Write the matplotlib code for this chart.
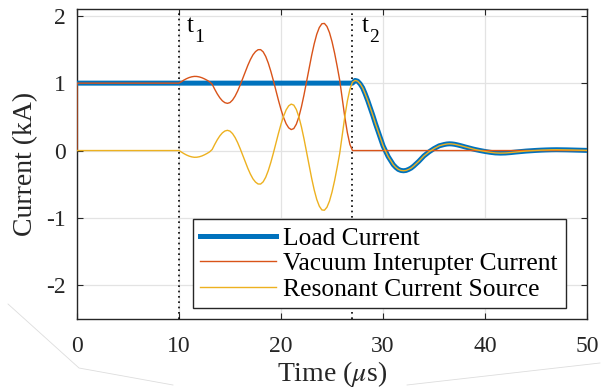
import numpy as np
import matplotlib
matplotlib.use("Agg")
import matplotlib.pyplot as plt
from matplotlib.lines import Line2D

plt.rcParams['font.family'] = ['Liberation Serif', 'DejaVu Serif']
plt.rcParams['mathtext.fontset'] = 'stix'
plt.rcParams['axes.unicode_minus'] = False

# ---- data ----
t_osc = np.arange(10, 27.001, 0.25)      # sample times between t1 and t2 (us)
yellow_osc = [0.000, -0.024, -0.047, -0.067, -0.083, -0.094, -0.100, -0.099, -0.092, -0.080,
              -0.063, -0.043, -0.020, 0.015, 0.090, 0.159, 0.217, 0.262, 0.290, 0.300,
              0.288, 0.251, 0.193, 0.117, 0.027, -0.070, -0.169, -0.265, -0.350, -0.420,
              -0.468, -0.496, -0.497, -0.464, -0.396, -0.298, -0.176, -0.038, 0.110, 0.256,
              0.393, 0.510, 0.603, 0.663, 0.689, 0.674, 0.609, 0.500, 0.351, 0.175,
              -0.020, -0.220, -0.411, -0.583, -0.725, -0.825, -0.881, -0.886, -0.841, -0.749,
              -0.614, -0.445, -0.251, -0.043, 0.231, 0.503, 0.735, 0.910, 1.014]
red_osc = [1.000, 1.024, 1.047, 1.067, 1.083, 1.094, 1.100, 1.099, 1.092, 1.080,
           1.063, 1.043, 1.020, 0.985, 0.910, 0.841, 0.783, 0.738, 0.710, 0.700,
           0.712, 0.749, 0.807, 0.883, 0.973, 1.070, 1.169, 1.265, 1.350, 1.420,
           1.468, 1.496, 1.497, 1.464, 1.396, 1.298, 1.176, 1.038, 0.890, 0.744,
           0.607, 0.490, 0.397, 0.337, 0.311, 0.326, 0.391, 0.500, 0.649, 0.825,
           1.020, 1.220, 1.411, 1.583, 1.725, 1.825, 1.881, 1.886, 1.841, 1.749,
           1.614, 1.445, 1.251, 1.043, 0.769, 0.497, 0.265, 0.090, 0.000]

t_tail = np.concatenate([np.arange(27, 40.001, 0.25), np.arange(40.5, 50.001, 0.5)])
tail = [1.014, 1.040, 1.030, 0.990, 0.930, 0.840, 0.740, 0.630, 0.520, 0.400,
        0.290, 0.180, 0.070, -0.010, -0.090, -0.150, -0.210, -0.250, -0.280, -0.295,
        -0.300, -0.295, -0.280, -0.260, -0.230, -0.195, -0.160, -0.120, -0.080, -0.050,
        -0.020, 0.005, 0.030, 0.050, 0.070, 0.080, 0.090, 0.097, 0.100, 0.098,
        0.093, 0.085, 0.076, 0.066, 0.055, 0.045, 0.035, 0.025, 0.016, 0.008,
        0.000, -0.007, -0.014,
        -0.026, -0.035, -0.038, -0.036, -0.030, -0.022, -0.015, -0.008, -0.003, 0.002,
        0.006, 0.009, 0.011, 0.012, 0.011, 0.010, 0.008, 0.006, 0.004, 0.002]

load_t = np.concatenate([[0, 27], t_tail[1:]])
load_v = np.concatenate([[1.0, 1.0], tail[1:]])
red_t = np.concatenate([[0, 0], t_osc, t_tail[1:]])
red_v = np.concatenate([[0, 1.0], red_osc, np.zeros(len(t_tail) - 1)])
yel_t = np.concatenate([[0], t_osc, t_tail[1:]])
yel_v = np.concatenate([[0.0], yellow_osc, tail[1:]])

t_marks = [10, 27]
t_subs = ['1', '2']
t_label_x = [10.75, 27.95]
xticks = [0, 10, 20, 30, 40, 50]
yticks = [-2, -1, 0, 1, 2]

# ---- figure ----
fig = plt.figure(figsize=(6.01, 3.91), dpi=100)
ax = fig.add_axes([0.128, 0.184, 0.849, 0.793])

axc = '#262626'
ax.plot(load_t, load_v, color='#0072BD', lw=3.6, label='Load Current', zorder=3,
        solid_joinstyle='round')
ax.plot(red_t, red_v, color='#D95319', lw=1.0, label='Vacuum Interupter Current', zorder=4)
ax.plot(yel_t, yel_v, color='#EDB120', lw=1.0, label='Resonant Current Source', zorder=5)

for xm, sub, xl in zip(t_marks, t_subs, t_label_x):
    ax.axvline(xm, color='black', ls=(0, (1, 2.2)), lw=1.2, zorder=2)
    tt = ax.text(xl, 1.758, 't', fontsize=18, va='baseline', ha='left', color='black')
    ax.annotate(sub, xy=(1, 0), xycoords=tt, xytext=(0.3, -3.5),
                textcoords='offset points', fontsize=14, va='baseline', ha='left',
                color='black')

ax.set_xlim(0, 50)
ax.set_ylim(-2.5, 2.1)
ax.set_xticks(xticks)
ax.set_yticks(yticks)
ax.grid(True, color='#e3e3e3', lw=0.9)
ax.set_axisbelow(True)
ax.tick_params(direction='in', length=4, width=0.8, colors=axc, labelsize=17,
               top=True, right=True, labelcolor='#262626')
ax.tick_params(axis='x', pad=12)
ax.tick_params(axis='y', pad=8)
for s in ax.spines.values():
    s.set_color(axc)
    s.set_linewidth(1.0)

ax.set_xlabel('Time ($\\mu$s)', fontsize=20, color='#262626', labelpad=1.5)
ax.set_ylabel('Current (kA)', fontsize=20, color='#262626', labelpad=6)

leg = ax.legend(loc='lower left', bbox_to_anchor=(0.227, 0.035), fontsize=18.4,
                frameon=True, fancybox=False, edgecolor=axc, framealpha=1,
                handlelength=2.95, labelspacing=0.1, borderpad=0.3,
                handletextpad=0.3, borderaxespad=0)
leg.get_frame().set_linewidth(1.0)

# faint decorative lines in the corners of the reference image
W, H = 601, 391
for xs, ys in [([8, 79, 173], [304, 368, 385]), ([407, 600], [385, 363])]:
    fig.add_artist(Line2D([x / W for x in xs], [1 - y / H for y in ys],
                          transform=fig.transFigure, color='#dddddd', lw=0.6))

fig.savefig('out.png', dpi=100)
